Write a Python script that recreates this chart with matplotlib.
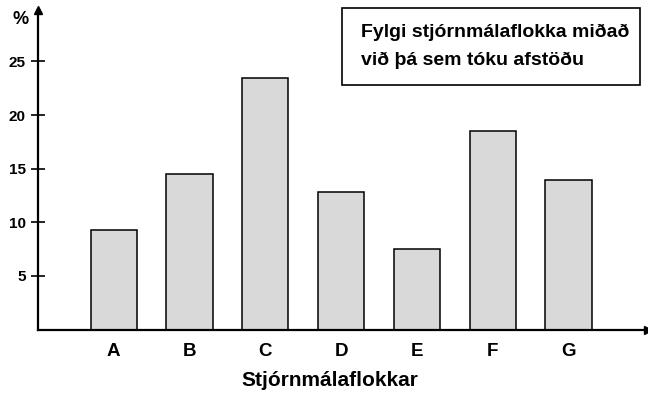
import matplotlib.pyplot as plt
from matplotlib.patches import Rectangle

plt.rcParams['font.family'] = ['Liberation Sans', 'DejaVu Sans']

# fylgi flokka (%)
flokkar = ['A', 'B', 'C', 'D', 'E', 'F', 'G']
fylgi = [9.3, 14.5, 23.5, 12.8, 7.5, 18.5, 13.9]
y_ticks = [5, 10, 15, 20, 25]

fig = plt.figure(figsize=(6.48, 3.95), dpi=100)
ax = fig.add_axes([38 / 648, (395 - 329.5) / 395, (648 - 38) / 648, (329.5 - 10) / 395])

x = range(len(flokkar))
ax.bar(x, fylgi, width=0.61, color='#d9d9d9', edgecolor='black', linewidth=1.1, zorder=2)

ax.set_xlim(-1.0, 7.05)
ax.set_ylim(0, 29.8)

for s in ['top', 'right']:
    ax.spines[s].set_visible(False)
for s in ['left', 'bottom']:
    ax.spines[s].set_linewidth(1.6)
    ax.spines[s].set_zorder(3)

# örvar á ásunum
ax.plot(1, 0, '>k', markersize=6, transform=ax.transAxes, clip_on=False)
ax.plot(0, 1, '^k', markersize=6, transform=ax.transAxes, clip_on=False)

ax.set_yticks(y_ticks)
ax.set_yticklabels([str(v) for v in y_ticks], fontsize=11, fontweight='bold')
ax.tick_params(axis='y', direction='inout', length=9.5, width=1.2, pad=4)

ax.set_xticks(list(x))
ax.set_xticklabels(flokkar, fontsize=13.5, fontweight='bold')
ax.tick_params(axis='x', length=0, pad=10)

fig.text(330 / 648, 1 - 381 / 395, 'Stjórnmálaflokkar', fontsize=15, fontweight='bold',
         ha='center', va='center')

fig.text(21 / 648, 1 - 19 / 395, '%', fontsize=13, fontweight='bold', ha='center', va='center')

# titill í ramma
fig.patches.append(Rectangle((342 / 648, 1 - 85 / 395), (640 - 342) / 648, 77 / 395,
                             transform=fig.transFigure, fill=False, edgecolor='black', linewidth=1.2))
fig.text(361 / 648, 1 - 32 / 395, 'Fylgi stjórnmálaflokka miðað', fontsize=14,
         fontweight='bold', ha='left', va='center')
fig.text(361 / 648, 1 - 60 / 395, 'við þá sem tóku afstöðu', fontsize=14,
         fontweight='bold', ha='left', va='center')

fig.savefig('out.png', dpi=100)
